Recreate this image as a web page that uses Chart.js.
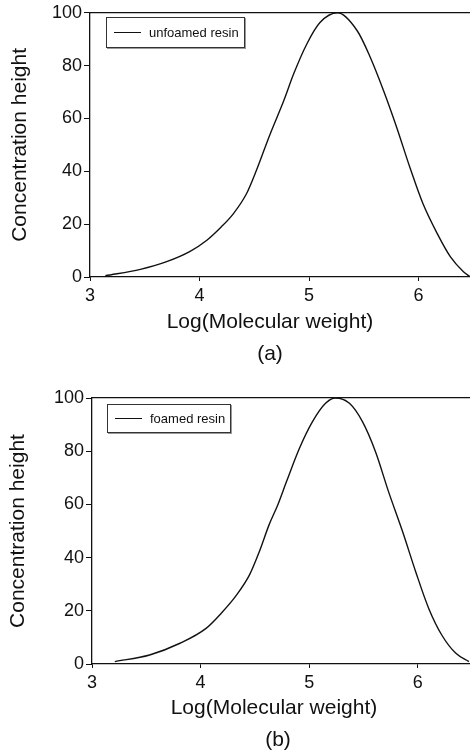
<!DOCTYPE html>
<html>
<head>
<meta charset="utf-8">
<script src="https://cdn.jsdelivr.net/npm/chart.js@4.4.1/dist/chart.umd.min.js"></script>
<style>
  html, body { margin: 0; padding: 0; background: #fff; }
  body { width: 470px; height: 752px; overflow: hidden; font-family: "Liberation Sans", Arial, sans-serif; color: #111; }
  .panel { position: relative; width: 470px; height: 376px; }
  .panel canvas { position: absolute; left: 0; top: 0; }
  .lbl { position: absolute; transform: translate(-50%, -50%); white-space: nowrap; line-height: 1; font-size: 21px; }
  .legend { position: absolute; border: 1px solid #333; box-shadow: 1px 1px 0 #999; background: #fff;
            font-size: 13px; display: flex; align-items: center; box-sizing: border-box; }
  .legend span.sw { display: inline-block; width: 27px; height: 0; border-top: 1.5px solid #111; margin-left: 7px; margin-right: 8px; }
</style>
</head>
<body>
<div class="panel" id="pa">
  <canvas id="chartA" width="470" height="376"></canvas>
  <div class="legend" style="left:106px;top:17px;width:139px;height:31px;"><span class="sw"></span>unfoamed resin</div>
  <div class="lbl" style="left:270px;top:320px;">Log(Molecular weight)</div>
  <div class="lbl" style="left:270px;top:352px;">(a)</div>
</div>
<div class="panel" id="pb">
  <canvas id="chartB" width="470" height="376"></canvas>
  <div class="legend" style="left:107px;top:28px;width:124px;height:29px;"><span class="sw"></span>foamed resin</div>
  <div class="lbl" style="left:274px;top:330px;">Log(Molecular weight)</div>
  <div class="lbl" style="left:278px;top:362px;">(b)</div>
</div>
<script>
// data
const logMwA = [3.14, 3.46, 3.70, 3.91, 4.07, 4.20, 4.31, 4.43, 4.52, 4.64, 4.77, 4.86, 4.98, 5.10, 5.26, 5.44, 5.56, 5.68, 5.80, 5.92, 6.04, 6.17, 6.29, 6.41, 6.47];
const concA  = [0.5, 2.9, 5.8, 9.6, 14, 19.0, 24.0, 31.6, 40.4, 53.6, 66.8, 76.9, 88.2, 96.3, 100, 93.2, 83.1, 70.6, 56.7, 41.6, 27.8, 16.5, 7.7, 2, 0.1];
const logMwB = [3.21, 3.53, 3.81, 4.05, 4.19, 4.33, 4.45, 4.54, 4.63, 4.71, 4.79, 4.91, 5.03, 5.15, 5.24, 5.37, 5.49, 5.61, 5.73, 5.86, 5.98, 6.10, 6.22, 6.35, 6.47];
const concB  = [0.9, 3.4, 7.8, 13.4, 19.1, 25.9, 33.5, 42.2, 52.3, 59.8, 68.5, 81.1, 91.1, 98, 100, 98, 91.1, 79.8, 64.8, 49.7, 34.7, 20.9, 10.9, 4, 0.9];
const xTicks = [3, 4, 5, 6];
const yTicks = [0, 20, 40, 60, 80, 100];

const font = 'Liberation Sans';

function makeChart(id, xs, ys, label, o) {
  const pts = xs.map((x, i) => ({ x: x, y: ys[i] }));
  return new Chart(document.getElementById(id), {
    type: 'scatter',
    data: { datasets: [{ label: label, data: pts, showLine: true, borderColor: '#111', borderWidth: 1.4,
      pointRadius: 0, cubicInterpolationMode: 'monotone', fill: false }] },
    options: {
      responsive: false, animation: false,
      layout: { padding: { top: o.top, left: 0, right: 0, bottom: 0 } },
      plugins: { legend: { display: false }, tooltip: { enabled: false } },
      scales: {
        x: {
          type: 'linear', min: 3, max: o.xmax,
          afterBuildTicks: s => { s.ticks = xTicks.map(v => ({ value: v })); },
          afterFit: s => { s.height = 376 - o.bottom; },
          border: { color: '#111', width: 1.3 },
          grid: { drawOnChartArea: false, drawTicks: true, tickLength: 4, color: '#111' },
          ticks: { color: '#111', padding: 4, maxRotation: 0, font: { family: font, size: 18 } }
        },
        x2: {
          type: 'linear', position: 'top', min: 3, max: o.xmax,
          afterFit: s => { s.height = 0; },
          border: { color: '#111', width: 1.3 },
          grid: { drawOnChartArea: false, drawTicks: false },
          ticks: { display: false }
        },
        y: {
          min: 0, max: 100,
          afterBuildTicks: s => { s.ticks = yTicks.map(v => ({ value: v })); },
          afterFit: s => { s.width = o.left; },
          border: { color: '#111', width: 1.3 },
          grid: { drawOnChartArea: false, drawTicks: true, tickLength: 6, color: '#111' },
          ticks: { color: '#111', padding: 2, font: { family: font, size: 18 } },
          title: { display: true, text: 'Concentration height', color: '#111',
            padding: { top: o.ytPad, bottom: 0 }, font: { family: font, size: 21 } }
        }
      }
    }
  });
}

makeChart('chartA', logMwA, concA, 'unfoamed resin', { top: 12, bottom: 277, left: 90, xmax: 6.47, ytPad: 7.4 });
makeChart('chartB', logMwB, concB, 'foamed resin', { top: 22, bottom: 288, left: 92, xmax: 6.48, ytPad: 5.9 });
</script>
</body>
</html>
